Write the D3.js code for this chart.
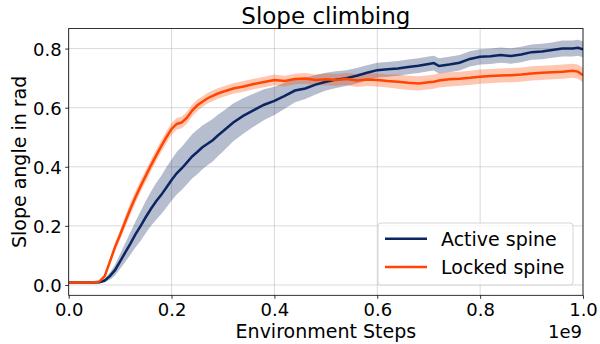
<!DOCTYPE html>
<html>
<head>
<meta charset="utf-8">
<script src="https://cdn.jsdelivr.net/npm/d3@7"></script>
<style>
  html, body { margin: 0; padding: 0; background: #fff; }
  svg { display: block; font-family: "DejaVu Sans", sans-serif; }
</style>
</head>
<body>
<svg id="chart" width="600" height="344"></svg>
<script>
// ---- data (x in units of 1e9 environment steps) ----
const steps = [0,0.02,0.04,0.05,0.06,0.07,0.08,0.09,0.10,0.11,0.12,0.13,0.14,0.15,0.16,0.17,0.18,0.19,0.20,0.21,0.22,0.23,0.24,0.25,0.26,0.27,0.28,0.29,0.30,0.32,0.34,0.36,0.38,0.40,0.42,0.44,0.46,0.48,0.50,0.52,0.54,0.56,0.58,0.60,0.62,0.64,0.66,0.68,0.70,0.71,0.72,0.74,0.76,0.78,0.80,0.82,0.84,0.86,0.88,0.90,0.92,0.94,0.96,0.98,0.99,1.0];

const activeMean = [0.008,0.008,0.008,0.008,0.009,0.015,0.03,0.05,0.08,0.11,0.14,0.172,0.20,0.23,0.258,0.283,0.305,0.33,0.355,0.378,0.395,0.415,0.435,0.45,0.466,0.478,0.49,0.506,0.52,0.55,0.573,0.592,0.61,0.623,0.64,0.658,0.665,0.678,0.688,0.695,0.700,0.708,0.718,0.727,0.730,0.733,0.738,0.742,0.748,0.751,0.741,0.746,0.752,0.765,0.772,0.774,0.778,0.775,0.780,0.788,0.790,0.795,0.800,0.800,0.803,0.798];
const activeSpread = [0,0,0,0,0.002,0.006,0.012,0.018,0.025,0.032,0.038,0.044,0.05,0.054,0.058,0.062,0.065,0.068,0.07,0.072,0.073,0.074,0.075,0.075,0.074,0.073,0.072,0.07,0.068,0.064,0.06,0.056,0.052,0.048,0.044,0.04,0.036,0.033,0.03,0.028,0.027,0.026,0.026,0.025,0.025,0.025,0.025,0.025,0.025,0.025,0.026,0.026,0.026,0.026,0.026,0.026,0.026,0.026,0.026,0.026,0.026,0.026,0.027,0.027,0.027,0.027];

const lockedMean = [0.008,0.008,0.008,0.009,0.012,0.03,0.078,0.128,0.17,0.215,0.258,0.298,0.335,0.37,0.405,0.438,0.47,0.50,0.528,0.545,0.55,0.566,0.59,0.608,0.62,0.632,0.64,0.648,0.654,0.665,0.672,0.68,0.687,0.694,0.690,0.697,0.699,0.694,0.696,0.694,0.697,0.692,0.695,0.694,0.690,0.688,0.684,0.682,0.686,0.688,0.692,0.696,0.698,0.701,0.705,0.707,0.709,0.710,0.712,0.716,0.718,0.720,0.722,0.725,0.722,0.710];
const lockedSpread = [0,0,0,0,0.002,0.006,0.01,0.014,0.016,0.018,0.02,0.02,0.02,0.02,0.02,0.02,0.02,0.02,0.02,0.02,0.02,0.02,0.02,0.02,0.018,0.018,0.018,0.018,0.018,0.018,0.018,0.018,0.018,0.018,0.018,0.018,0.018,0.018,0.02,0.02,0.02,0.022,0.022,0.022,0.022,0.024,0.024,0.024,0.024,0.024,0.024,0.024,0.024,0.024,0.024,0.024,0.024,0.024,0.024,0.024,0.024,0.024,0.024,0.024,0.024,0.024];

const seriesNames = ["Active spine", "Locked spine"];
const xTicks = [0.0, 0.2, 0.4, 0.6, 0.8, 1.0];
const yTicks = [0.0, 0.2, 0.4, 0.6, 0.8];

// ---- layout ----
const W = 600, H = 344;
const m = { left: 68.7, right: 17, top: 28.5, bottom: 48.7 };
const colors = { active: "#0a2560", locked: "#ff4500" };

const svg = d3.select("#chart");
const x = d3.scaleLinear().domain([0, 1.0]).range([m.left, W - m.right]);
const y = d3.scaleLinear().domain([-0.035, 0.868]).range([H - m.bottom, m.top]);

// grid
const grid = svg.append("g");
grid.selectAll(".gx").data(xTicks).join("line")
  .attr("x1", d => x(d)).attr("x2", d => x(d))
  .attr("y1", m.top).attr("y2", H - m.bottom)
  .attr("stroke", "#b0b0b0").attr("stroke-opacity", 0.6).attr("stroke-width", 0.8);
grid.selectAll(".gy").data(yTicks).join("line")
  .attr("x1", m.left).attr("x2", W - m.right)
  .attr("y1", d => y(d)).attr("y2", d => y(d))
  .attr("stroke", "#b0b0b0").attr("stroke-opacity", 0.6).attr("stroke-width", 0.8);

svg.append("clipPath").attr("id", "clip").append("rect")
  .attr("x", m.left).attr("y", m.top)
  .attr("width", W - m.left - m.right).attr("height", H - m.top - m.bottom);

const plot = svg.append("g").attr("clip-path", "url(#clip)");

function band(mean, spread) {
  return d3.area()
    .x((d, i) => x(steps[i]))
    .y0((d, i) => y(mean[i] - spread[i]))
    .y1((d, i) => y(mean[i] + spread[i]))(steps);
}
function line(mean) {
  return d3.line().x((d, i) => x(steps[i])).y((d, i) => y(mean[i]))(steps);
}

plot.append("path").attr("d", band(activeMean, activeSpread))
  .attr("fill", colors.active).attr("fill-opacity", 0.3);
plot.append("path").attr("d", band(lockedMean, lockedSpread))
  .attr("fill", colors.locked).attr("fill-opacity", 0.3);
plot.append("path").attr("d", line(activeMean))
  .attr("fill", "none").attr("stroke", colors.active).attr("stroke-width", 2.5);
plot.append("path").attr("d", line(lockedMean))
  .attr("fill", "none").attr("stroke", colors.locked).attr("stroke-width", 2.5);

// axes
const xAxis = svg.append("g").attr("transform", `translate(0,${H - m.bottom})`)
  .call(d3.axisBottom(x).tickValues(xTicks).tickFormat(d3.format(".1f")).tickSize(3.5).tickPadding(3.5));
const yAxis = svg.append("g").attr("transform", `translate(${m.left},0)`)
  .call(d3.axisLeft(y).tickValues(yTicks).tickFormat(d3.format(".1f")).tickSize(3.5).tickPadding(3.5));
[xAxis, yAxis].forEach(a => {
  a.select(".domain").remove();
  a.selectAll("line").attr("stroke", "#000").attr("stroke-width", 0.8);
  a.selectAll("text").attr("font-size", 18).attr("fill", "#000")
    .attr("font-family", "DejaVu Sans, sans-serif");
});
yAxis.selectAll("text").attr("dy", "0.36em");
xAxis.selectAll("text").attr("dy", "0.76em");

// spines
svg.append("rect").attr("x", m.left).attr("y", m.top)
  .attr("width", W - m.left - m.right).attr("height", H - m.top - m.bottom)
  .attr("fill", "none").attr("stroke", "#000").attr("stroke-width", 0.8);

// labels
svg.append("text").attr("x", (m.left + W - m.right) / 2).attr("y", 24)
  .attr("text-anchor", "middle").attr("font-size", 23).text("Slope climbing");
svg.append("text").attr("x", (m.left + W - m.right) / 2).attr("y", 337.5)
  .attr("text-anchor", "middle").attr("font-size", 19).text("Environment Steps");
svg.append("text").attr("transform", `translate(26,${(m.top + H - m.bottom) / 2}) rotate(-90)`)
  .attr("text-anchor", "middle").attr("font-size", 19).text("Slope angle in rad");
svg.append("text").attr("x", W - m.right - 1).attr("y", 337.5)
  .attr("text-anchor", "end").attr("font-size", 18).text("1e9");

// legend
const lg = svg.append("g");
lg.append("rect").attr("x", 378).attr("y", 223).attr("width", 195).attr("height", 62)
  .attr("rx", 3).attr("fill", "#fff").attr("fill-opacity", 0.8)
  .attr("stroke", "#cccccc").attr("stroke-width", 0.8);
const lgItems = [{ name: seriesNames[0], c: colors.active }, { name: seriesNames[1], c: colors.locked }];
lgItems.forEach((d, i) => {
  const yy = 238.7 + i * 28.3;
  lg.append("line").attr("x1", 385).attr("x2", 427).attr("y1", yy).attr("y2", yy)
    .attr("stroke", d.c).attr("stroke-width", 2.5);
  lg.append("text").attr("x", 441).attr("y", yy).attr("dy", "0.36em")
    .attr("font-size", 19).text(d.name);
});
</script>
</body>
</html>
